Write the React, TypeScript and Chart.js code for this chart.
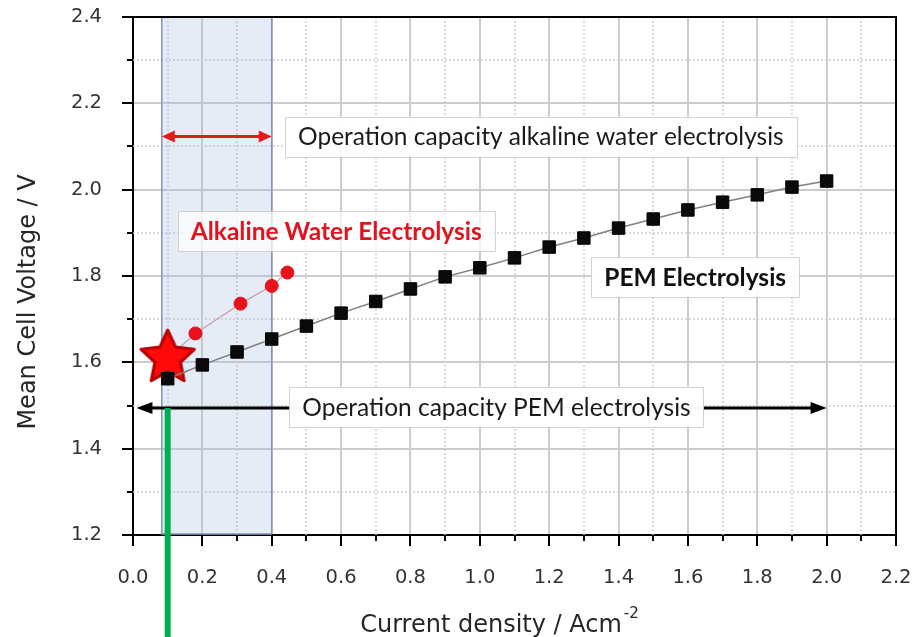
import React, { useEffect, useRef } from 'react';
import { Chart, registerables } from 'chart.js';

Chart.register(...registerables);

// ---------- data ----------
const pemCurrent = [0.1, 0.2, 0.3, 0.4, 0.5, 0.6, 0.7, 0.8, 0.9, 1.0, 1.1, 1.2, 1.3, 1.4, 1.5, 1.6, 1.7, 1.8, 1.9, 2.0];
const pemVoltage = [1.562, 1.594, 1.624, 1.654, 1.684, 1.714, 1.741, 1.770, 1.798, 1.819, 1.842, 1.867, 1.888, 1.911, 1.932, 1.953, 1.971, 1.988, 2.006, 2.020];

const alkCurrent = [0.1, 0.18, 0.31, 0.40, 0.445];
const alkVoltage = [1.61, 1.667, 1.736, 1.777, 1.808];

const starCurrent = [0.1];
const starVoltage = [1.61];

// axes
const X_MIN = 0.0;
const X_MAX = 2.2;
const X_STEP = 0.2;
const Y_MIN = 1.2;
const Y_MAX = 2.4;
const Y_STEP = 0.2;

// annotation values (data units)
const alkRegion = [0.083, 0.4];
const alkArrowY = 2.123;
const pemArrowRange = [0.01, 2.0];
const pemArrowY = 1.494;
const greenLineX = 0.1;

const annotationTexts = [
  'Operation capacity alkaline water electrolysis',
  'Alkaline Water Electrolysis',
  'PEM Electrolysis',
  'Operation capacity PEM electrolysis',
];
const annotationX = [1.176, 0.586, 1.621, 1.048];
const annotationY = [2.123, 1.904, 1.798, 1.497];
const annotationBold = [false, true, true, false];
const annotationColor = ['#1a1a1a', '#e0141e', '#111111', '#1a1a1a'];
const annotationFill = ['rgba(255,255,255,0.95)', 'rgba(255,255,255,0.72)', 'rgba(255,255,255,0.95)', 'rgba(255,255,255,0.97)'];

const yTitle = 'Mean Cell Voltage / V';
const xTitle = 'Current density / Acm';
const xTitleSup = '-2';

const ANN_FONT = 'Lato';
const AXIS_FONT = 'DejaVu Sans';

const TICK_LEN = 11;
const MINOR_TICK_LEN = 6;
const LABEL_GAP = 20;

function makeStar(): HTMLCanvasElement {
  const c = document.createElement('canvas');
  c.width = 66;
  c.height = 66;
  const g = c.getContext('2d')!;
  const cx = 33, cy = 33, R = 28, r = 13.5;
  g.beginPath();
  for (let i = 0; i < 10; i++) {
    const rad = i % 2 === 0 ? R : r;
    const a = -Math.PI / 2 + (i * Math.PI) / 5;
    const px = cx + rad * Math.cos(a);
    const py = cy + rad * Math.sin(a);
    if (i === 0) g.moveTo(px, py);
    else g.lineTo(px, py);
  }
  g.closePath();
  g.fillStyle = '#ff0a0a';
  g.fill();
  g.lineJoin = 'round';
  g.lineWidth = 3;
  g.strokeStyle = '#b80000';
  g.stroke();
  return c;
}

function drawArrow(ctx: CanvasRenderingContext2D, x1: number, x2: number, y: number, color: string, lw: number, hl: number, hw: number) {
  ctx.save();
  ctx.strokeStyle = color;
  ctx.fillStyle = color;
  ctx.lineWidth = lw;
  ctx.setLineDash([]);
  ctx.beginPath();
  ctx.moveTo(x1 + hl * 0.8, y);
  ctx.lineTo(x2 - hl * 0.8, y);
  ctx.stroke();
  ctx.beginPath();
  ctx.moveTo(x1, y);
  ctx.lineTo(x1 + hl, y - hw);
  ctx.lineTo(x1 + hl, y + hw);
  ctx.closePath();
  ctx.fill();
  ctx.beginPath();
  ctx.moveTo(x2, y);
  ctx.lineTo(x2 - hl, y - hw);
  ctx.lineTo(x2 - hl, y + hw);
  ctx.closePath();
  ctx.fill();
  ctx.restore();
}

const decorPlugin = {
  id: 'decor',
  beforeDatasetsDraw(chart: any) {
    const { ctx, chartArea: ca, scales } = chart;
    const xs = scales.x, ys = scales.y;
    ctx.save();
    // minor dotted grid
    ctx.strokeStyle = '#cfcfcf';
    ctx.lineWidth = 1.5;
    ctx.setLineDash([2, 2]);
    for (let k = 0; X_MIN + X_STEP / 2 + k * X_STEP < X_MAX; k++) {
      const px = Math.round(xs.getPixelForValue(X_MIN + X_STEP / 2 + k * X_STEP));
      ctx.beginPath();
      ctx.moveTo(px, ca.top);
      ctx.lineTo(px, ca.bottom);
      ctx.stroke();
    }
    for (let k = 0; Y_MIN + Y_STEP / 2 + k * Y_STEP < Y_MAX; k++) {
      const py = Math.round(ys.getPixelForValue(Y_MIN + Y_STEP / 2 + k * Y_STEP));
      ctx.beginPath();
      ctx.moveTo(ca.left, py);
      ctx.lineTo(ca.right, py);
      ctx.stroke();
    }
    // major + minor tick marks, outside the axes
    ctx.setLineDash([]);
    ctx.strokeStyle = '#000';
    ctx.lineWidth = 2;
    for (let k = 0; X_MIN + (k * X_STEP) / 2 <= X_MAX + 1e-9; k++) {
      const px = Math.round(xs.getPixelForValue(X_MIN + (k * X_STEP) / 2));
      const len = k % 2 === 0 ? TICK_LEN : MINOR_TICK_LEN;
      ctx.beginPath();
      ctx.moveTo(px, ca.bottom);
      ctx.lineTo(px, ca.bottom + len);
      ctx.stroke();
    }
    for (let k = 0; Y_MIN + (k * Y_STEP) / 2 <= Y_MAX + 1e-9; k++) {
      const py = Math.round(ys.getPixelForValue(Y_MIN + (k * Y_STEP) / 2));
      const len = k % 2 === 0 ? TICK_LEN : MINOR_TICK_LEN;
      ctx.beginPath();
      ctx.moveTo(ca.left - len, py);
      ctx.lineTo(ca.left, py);
      ctx.stroke();
    }
    // blue operating region
    const rx1 = xs.getPixelForValue(alkRegion[0]);
    const rx2 = xs.getPixelForValue(alkRegion[1]);
    ctx.fillStyle = 'rgba(160,185,222,0.27)';
    ctx.fillRect(rx1, ca.top, rx2 - rx1, ca.bottom - ca.top - 1);
    ctx.strokeStyle = '#7f96ba';
    ctx.lineWidth = 1.5;
    ctx.strokeRect(rx1, ca.top, rx2 - rx1, ca.bottom - ca.top - 1);
    ctx.restore();
  },
  afterDatasetsDraw(chart: any) {
    const { ctx, chartArea: ca, scales } = chart;
    const xs = scales.x, ys = scales.y;
    ctx.save();
    // red double arrow
    drawArrow(ctx, xs.getPixelForValue(alkRegion[0]), xs.getPixelForValue(alkRegion[1]), ys.getPixelForValue(alkArrowY), '#e51b1b', 3, 13, 6);
    // black double arrow
    drawArrow(ctx, xs.getPixelForValue(pemArrowRange[0]), xs.getPixelForValue(pemArrowRange[1]), ys.getPixelForValue(pemArrowY), '#000', 3, 16, 6);
    // boxes with text
    for (let i = 0; i < annotationTexts.length; i++) {
      const cx = xs.getPixelForValue(annotationX[i]);
      const cy = ys.getPixelForValue(annotationY[i]);
      ctx.font = `${annotationBold[i] ? 'bold ' : ''}24.5px ${ANN_FONT}`;
      const w = ctx.measureText(annotationTexts[i]).width;
      const bw = w + 26, bh = 40;
      ctx.fillStyle = annotationFill[i];
      ctx.fillRect(cx - bw / 2, cy - bh / 2, bw, bh);
      ctx.strokeStyle = 'rgba(200,200,200,0.8)';
      ctx.lineWidth = 1;
      ctx.strokeRect(Math.round(cx - bw / 2) + 0.5, Math.round(cy - bh / 2) + 0.5, Math.round(bw), bh);
      ctx.fillStyle = annotationColor[i];
      ctx.textAlign = 'center';
      ctx.textBaseline = 'middle';
      ctx.fillText(annotationTexts[i], cx, cy + 1);
    }
    // frame: top and right
    ctx.strokeStyle = '#000';
    ctx.lineWidth = 2;
    ctx.beginPath();
    ctx.moveTo(ca.left, ca.top);
    ctx.lineTo(ca.right, ca.top);
    ctx.lineTo(ca.right, ca.bottom);
    ctx.stroke();
    ctx.restore();
  },
  afterDraw(chart: any) {
    const { ctx, chartArea: ca, scales } = chart;
    const xs = scales.x, ys = scales.y;
    ctx.save();
    // green vertical line
    ctx.strokeStyle = '#00b050';
    ctx.lineWidth = 6;
    const gx = xs.getPixelForValue(greenLineX);
    ctx.beginPath();
    ctx.moveTo(gx, ys.getPixelForValue(pemArrowY));
    ctx.lineTo(gx, chart.height);
    ctx.stroke();
    // axis titles
    ctx.fillStyle = '#262626';
    ctx.textBaseline = 'alphabetic';
    // y title
    ctx.save();
    ctx.translate(35, chart.height * 0.474);
    ctx.rotate(-Math.PI / 2);
    ctx.font = `24px ${AXIS_FONT}`;
    ctx.textAlign = 'center';
    ctx.fillText(yTitle, 0, 0);
    ctx.restore();
    // x title with superscript
    ctx.font = `24px ${AXIS_FONT}`;
    const mainW = ctx.measureText(xTitle).width;
    ctx.font = `15px ${AXIS_FONT}`;
    const supW = ctx.measureText(xTitleSup).width;
    const total = mainW + 2 + supW;
    const centerX = (ca.left + ca.right) / 2 - 15;
    const startX = centerX - total / 2;
    const base = chart.height - 5;
    ctx.textAlign = 'left';
    ctx.font = `24px ${AXIS_FONT}`;
    ctx.fillText(xTitle, startX, base);
    ctx.font = `15px ${AXIS_FONT}`;
    ctx.fillText(xTitleSup, startX + mainW + 2, base - 14);
    ctx.restore();
  },
};

export default function App() {
  const ref = useRef<HTMLCanvasElement | null>(null);

  useEffect(() => {
    if (!ref.current) return;
    const star = makeStar();
    // tick marks are drawn by the plugin; the (invisible) tick length sets the label gap
    const gridOpts = {
      color: '#cccccc',
      lineWidth: 2,
      tickLength: TICK_LEN + LABEL_GAP,
      tickColor: '#000',
      tickWidth: 0,
    };
    const chart = new Chart(ref.current, {
      type: 'scatter',
      data: {
        datasets: [
          {
            label: 'PEM Electrolysis',
            data: pemCurrent.map((x, i) => ({ x, y: pemVoltage[i] })),
            showLine: true,
            borderColor: '#808080',
            borderWidth: 1.5,
            pointStyle: 'rect',
            pointRadius: 8.8,
            pointBackgroundColor: '#0a0a0a',
            pointBorderColor: '#000',
            pointBorderWidth: 1,
            order: 0,
          },
          {
            label: 'Star',
            data: starCurrent.map((x, i) => ({ x, y: starVoltage[i] })),
            showLine: false,
            pointStyle: star as any,
            pointRadius: 28,
            order: 1,
          },
          {
            label: 'Alkaline Water Electrolysis',
            data: alkCurrent.map((x, i) => ({ x, y: alkVoltage[i] })),
            showLine: true,
            borderColor: '#c9a3a7',
            borderWidth: 1.3,
            pointStyle: 'circle',
            pointRadius: [0, 6.5, 6.5, 6.5, 6.5],
            pointBackgroundColor: '#e8121c',
            pointBorderColor: '#e8121c',
            pointBorderWidth: 1,
            order: 2,
          },
        ],
      },
      options: {
        animation: false,
        responsive: false,
        events: [],
        layout: { autoPadding: false, padding: { top: 17, right: 28, left: 0, bottom: 0 } },
        plugins: {
          legend: { display: false },
          tooltip: { enabled: false },
          title: { display: false },
        },
        scales: {
          x: {
            type: 'linear',
            min: X_MIN,
            max: X_MAX,
            afterFit: (s: any) => { s.height = 102; },
            ticks: {
              stepSize: X_STEP,
              autoSkip: false,
              maxRotation: 0,
              padding: 0,
              color: '#333',
              font: { family: AXIS_FONT, size: 19.5 },
              callback: (v: any) => Number(v).toFixed(1),
            },
            grid: gridOpts,
            border: { color: '#000', width: 2 },
          },
          y: {
            type: 'linear',
            min: Y_MIN,
            max: Y_MAX,
            afterFit: (s: any) => { s.width = 133; },
            ticks: {
              stepSize: Y_STEP,
              autoSkip: false,
              padding: 0,
              color: '#333',
              font: { family: AXIS_FONT, size: 19.5 },
              callback: (v: any) => Number(v).toFixed(1),
            },
            grid: gridOpts,
            border: { color: '#000', width: 2 },
          },
        },
      },
      plugins: [decorPlugin],
    });
    return () => chart.destroy();
  }, []);

  return (
    <div style={{ position: 'fixed', left: 0, top: 0, width: 924, height: 637, background: '#fff' }}>
      <canvas ref={ref} width={924} height={637} style={{ display: 'block' }} />
    </div>
  );
}
